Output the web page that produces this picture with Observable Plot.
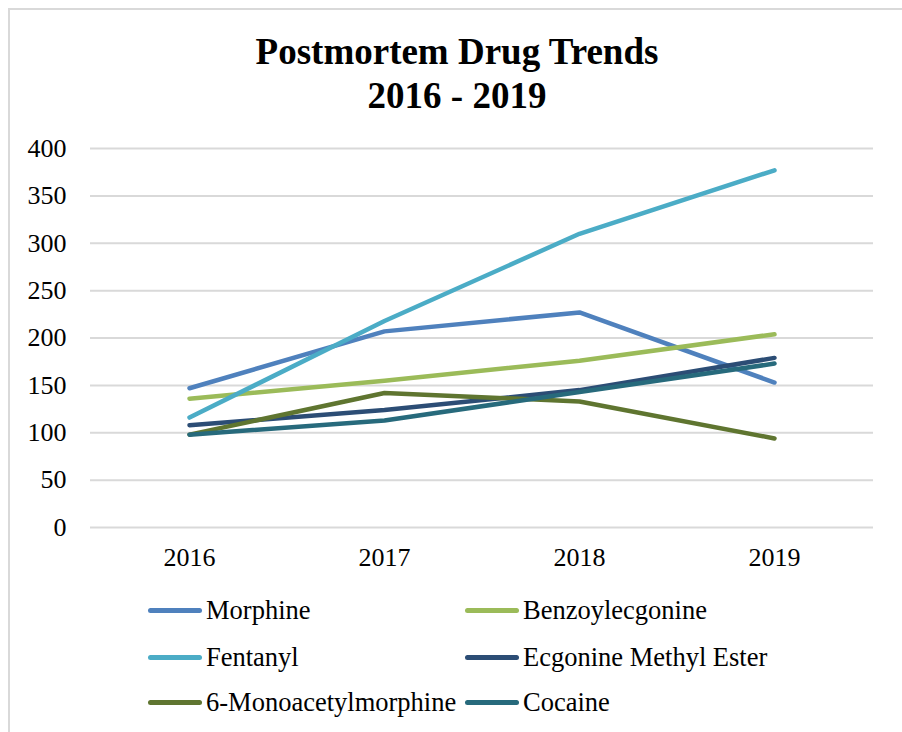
<!DOCTYPE html>
<html>
<head>
<meta charset="utf-8">
<script src="https://cdn.jsdelivr.net/npm/d3@7"></script>
<script src="https://cdn.jsdelivr.net/npm/@observablehq/plot@0.6"></script>
<style>
  html, body { margin: 0; padding: 0; background: #fff; overflow: hidden; }
  #wrap { position: relative; width: 902px; height: 732px; overflow: hidden; font-family: "Liberation Serif", "Times New Roman", serif; }
  #frame { position: absolute; left: 8px; top: 8px; width: 1000px; height: 1000px; border: 2px solid #d9d9d9; box-sizing: border-box; }
  #title { position: absolute; left: 9px; width: 896px; top: 30px; text-align: center; font-weight: bold; font-size: 37px; line-height: 44px; color: #000; }
  #chart { position: absolute; left: 0; top: 0; }
  .leg { position: absolute; display: flex; align-items: center; font-size: 26.5px; color: #000; white-space: nowrap; }
  .sw { width: 54px; height: 5px; border-radius: 3px; margin-right: 4px; }
</style>
</head>
<body>
<div id="wrap">
  <div id="frame"></div>
  <div id="chart"></div>
  <div id="title">Postmortem Drug Trends<br>2016 - 2019</div>
  <div id="legend"></div>
</div>
<script>
const years = ["2016", "2017", "2018", "2019"];
const seriesNames = ["Morphine", "Benzoylecgonine", "Fentanyl", "Ecgonine Methyl Ester", "6-Monoacetylmorphine", "Cocaine"];
const seriesColors = ["#4F81BD", "#9BBB59", "#4BACC6", "#2C4D75", "#5F7530", "#276A7C"];
const morphine = [147, 207, 227, 153];
const benzoylecgonine = [136, 155, 176, 204];
const fentanyl = [116, 218, 310, 377];
const ecgonineMethylEster = [108, 124, 145, 179];
const monoacetylmorphine = [98, 142, 133, 94];
const cocaine = [98, 113, 143, 173];
const yTicks = [0, 50, 100, 150, 200, 250, 300, 350, 400];

const seriesValues = [morphine, benzoylecgonine, fentanyl, ecgonineMethylEster, monoacetylmorphine, cocaine];
const data = [];
seriesNames.forEach((name, i) => {
  years.forEach((yr, j) => data.push({series: name, year: yr, value: seriesValues[i][j]}));
});

const chart = Plot.plot({
  width: 902,
  height: 590,
  marginLeft: 90,
  marginRight: 29,
  marginTop: 148,
  marginBottom: 63,
  style: {fontFamily: "'Liberation Serif', 'Times New Roman', serif", fontSize: "26px", color: "#000", background: "transparent", overflow: "visible"},
  x: {type: "point", domain: years, padding: 0.5, label: null},
  y: {domain: [0, 400], label: null},
  color: {domain: seriesNames, range: seriesColors},
  marks: [
    Plot.gridY(yTicks, {stroke: "#d9d9d9", strokeOpacity: 1, strokeWidth: 2}),
    Plot.axisY(yTicks, {tickSize: 0, tickPadding: 24, label: null, fill: "#000"}),
    Plot.axisX(years, {tickSize: 0, tickPadding: 20, label: null, fill: "#000"}),
    Plot.lineY(data, {x: "year", y: "value", z: "series", stroke: "series", strokeWidth: 4.5, strokeLinecap: "round", strokeLinejoin: "round"})
  ]
});
document.getElementById("chart").appendChild(chart);

const legend = document.getElementById("legend");
const legPos = [
  [148, 610], [465, 610],
  [148, 657], [465, 657],
  [148, 702], [465, 702]
];
seriesNames.forEach((name, i) => {
  const item = document.createElement("div");
  item.className = "leg";
  item.style.left = legPos[i][0] + "px";
  item.style.top = (legPos[i][1] - 16) + "px";
  item.style.height = "32px";
  const sw = document.createElement("div");
  sw.className = "sw";
  sw.style.background = seriesColors[i];
  item.appendChild(sw);
  const t = document.createElement("span");
  t.textContent = name;
  item.appendChild(t);
  legend.appendChild(item);
});
</script>
</body>
</html>
